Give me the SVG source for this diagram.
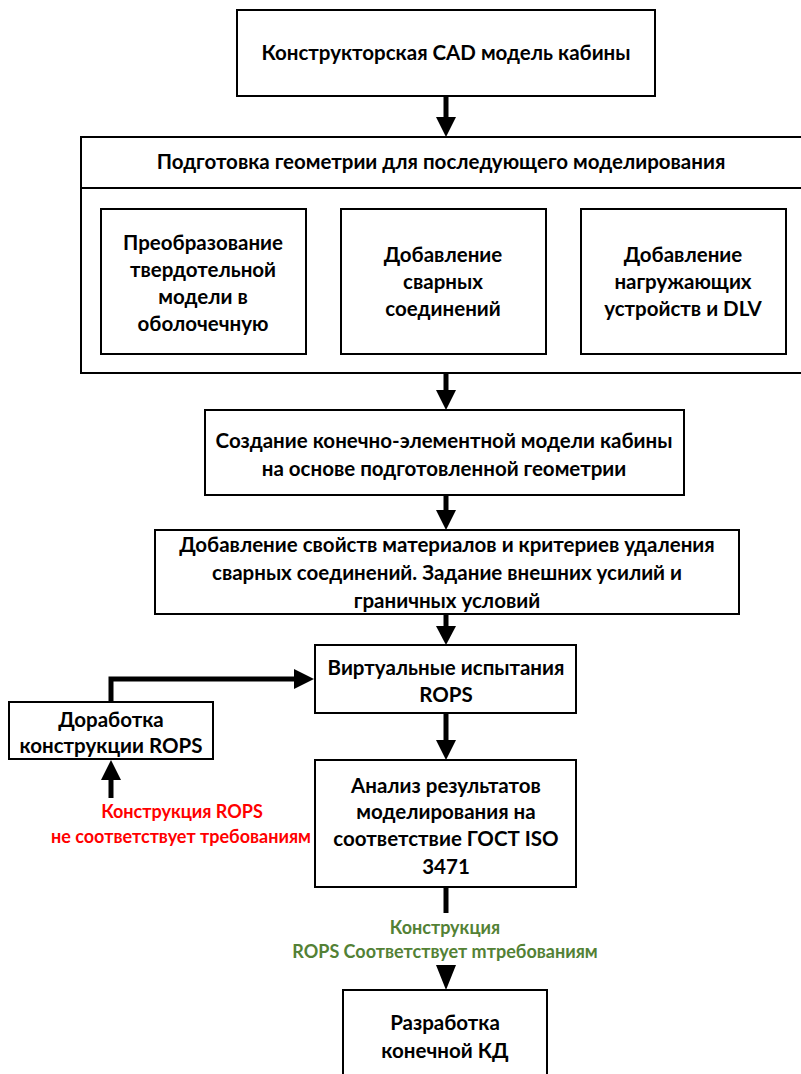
<svg xmlns="http://www.w3.org/2000/svg" width="801" height="1074" viewBox="0 0 801 1074">
<defs>
<style>
.box{fill:#fff;stroke:#000;stroke-width:2}
.t{font-family:Lato,"Open Sans","Liberation Sans",sans-serif;font-weight:bold;font-size:20.5px;fill:#000;text-anchor:middle}
.s{font-size:18px}
.red{fill:#ff0000}
.green{fill:#538135}
.c{fill:none;stroke:#000;stroke-width:5}
.ah{fill:#000}
</style>
</defs>
<rect width="801" height="1074" fill="#fff"/>
<g id="connectors">
<line class="c" x1="446" y1="96" x2="446" y2="118"/>
<polygon class="ah" points="436,117 456,117 446,137"/>
<line class="c" x1="446" y1="373" x2="446" y2="392"/>
<polygon class="ah" points="436,390 456,390 446,410"/>
<line class="c" x1="446" y1="495" x2="446" y2="512"/>
<polygon class="ah" points="436,510 456,510 446,530"/>
<line class="c" x1="446" y1="614" x2="446" y2="628"/>
<polygon class="ah" points="436,626 456,626 446,645"/>
<line class="c" x1="446" y1="713" x2="446" y2="742"/>
<polygon class="ah" points="436,740 456,740 446,760"/>
<polyline class="c" points="111,702 111,679 296,679"/>
<polygon class="ah" points="294,669 294,689 314,679"/>
<line class="c" x1="111" y1="798" x2="111" y2="778"/>
<polygon class="ah" points="101,780 121,780 111,760"/>
<line class="c" x1="446" y1="887" x2="446" y2="913"/>
<polygon class="ah" points="436,965 456,965 446,990"/>
<text class="t s green" x="445" y="934">Конструкция</text>
<text class="t s green" x="445" y="958">ROPS Соответствует mтребованиям</text>
<text class="t s red" x="182" y="818">Конструкция ROPS</text>
<text class="t s red" x="181" y="843">не соответствует требованиям</text>
</g>
<g id="n1">
<rect class="box" x="237" y="10" width="418" height="86"/>
<text class="t" x="446" y="60">Конструкторская CAD модель кабины</text>
</g>
<g id="n2">
<rect class="box" x="81" y="137" width="730" height="236"/>
<line x1="81" y1="188" x2="811" y2="188" stroke="#000" stroke-width="2"/>
<text class="t" x="441" y="169">Подготовка геометрии для последующего моделирования</text>
</g>
<g id="n2a">
<rect class="box" x="101" y="209" width="205" height="145"/>
<text class="t" x="203" y="250">Преобразование</text>
<text class="t" x="203" y="277">твердотельной</text>
<text class="t" x="203" y="304">модели в</text>
<text class="t" x="203" y="331">оболочечную</text>
</g>
<g id="n2b">
<rect class="box" x="341" y="209" width="205" height="145"/>
<text class="t" x="443" y="262">Добавление</text>
<text class="t" x="443" y="289">сварных</text>
<text class="t" x="443" y="316">соединений</text>
</g>
<g id="n2c">
<rect class="box" x="581" y="209" width="205" height="145"/>
<text class="t" x="683" y="262">Добавление</text>
<text class="t" x="683" y="289">нагружающих</text>
<text class="t" x="683" y="316">устройств и DLV</text>
</g>
<g id="n3">
<rect class="box" x="205" y="410" width="479" height="85"/>
<text class="t" x="444" y="448">Создание конечно-элементной модели кабины</text>
<text class="t" x="444" y="476">на основе подготовленной геометрии</text>
</g>
<g id="n4">
<rect class="box" x="155" y="530" width="584" height="84"/>
<text class="t" x="447" y="552">Добавление свойств материалов и критериев удаления</text>
<text class="t" x="447" y="580">сварных соединений. Задание внешних усилий и</text>
<text class="t" x="447" y="608">граничных условий</text>
</g>
<g id="n5">
<rect class="box" x="315" y="645" width="261" height="68"/>
<text class="t" x="446" y="675">Виртуальные испытания</text>
<text class="t" x="446" y="702">ROPS</text>
</g>
<g id="n6">
<rect class="box" x="9" y="702" width="204" height="57"/>
<text class="t" x="111" y="727">Доработка</text>
<text class="t" x="111" y="753">конструкции ROPS</text>
</g>
<g id="n7">
<rect class="box" x="315" y="760" width="261" height="127"/>
<text class="t" x="446" y="793">Анализ результатов</text>
<text class="t" x="446" y="819">моделирования на</text>
<text class="t" x="446" y="846">соответствие ГОСТ ISO</text>
<text class="t" x="446" y="874">3471</text>
</g>
<g id="n8">
<rect class="box" x="343" y="990" width="204" height="90"/>
<text class="t" x="445" y="1030">Разработка</text>
<text class="t" x="445" y="1058">конечной КД</text>
</g>
</svg>
